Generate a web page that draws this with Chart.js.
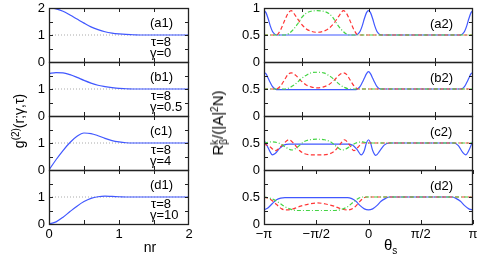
<!DOCTYPE html>
<html>
<head>
<meta charset="utf-8">
<script src="https://cdn.jsdelivr.net/npm/chart.js@4.4.0/dist/chart.umd.min.js"></script>
<style>
  body { margin: 0; background: #fff; width: 498px; height: 264px; overflow: hidden; position: relative; }
  .box { position: absolute; }
  .t { position: absolute; font: 13px "Liberation Sans", Arial, sans-serif; line-height: 14px; white-space: nowrap; color: #000; }
  .rot { position: absolute; transform: translate(-50%, -50%) rotate(-90deg); white-space: nowrap;
         font: 14px "Liberation Sans", Arial, sans-serif; line-height: 16px; color: #000; }
  .ss { display: inline-block; vertical-align: middle; line-height: 9px; font-size: 10px; text-align: left; }
  sup { font-size: 10px; vertical-align: 5px; line-height: 0; }
  sub { font-size: 10px; vertical-align: -4px; line-height: 0; }
</style>
</head>
<body>
<script>
const PI = Math.PI

// ---- left column: g2(r) against nr ----
const nr = [0, 0.1, 0.2, 0.3, 0.4, 0.5, 0.6, 0.7, 0.8, 0.9, 1.0, 1.1, 1.2, 1.3, 1.4, 1.5, 1.6, 1.7, 1.8, 1.9, 2.0]
const gA1 = [2.0, 1.97, 1.88, 1.74, 1.59, 1.44, 1.30, 1.20, 1.12, 1.07, 1.04, 1.02, 1.01, 1.0, 1, 1, 1, 1, 1, 1, 1]
const gB1 = [1.57, 1.61, 1.6, 1.53, 1.43, 1.32, 1.22, 1.14, 1.09, 1.05, 1.02, 1.01, 1.0, 1, 1, 1, 1, 1, 1, 1, 1]
const gC1 = [0, 0.38, 0.72, 1.02, 1.25, 1.37, 1.35, 1.27, 1.17, 1.09, 1.04, 1.01, 1.0, 1, 1, 1, 1, 1, 1, 1, 1]
const gD1 = [0, 0.08, 0.25, 0.46, 0.66, 0.83, 0.95, 1.01, 1.03, 1.02, 1.01, 1.0, 1, 1, 1, 1, 1, 1, 1, 1, 1]
const refLevel = 1

// ---- right column: [theta / pi, R] ----
const a2Blue = [[-1,0.95],[-0.98,0.91],[-0.96,0.8],[-0.94,0.67],[-0.92,0.57],[-0.9,0.52],[-0.88,0.5],[-0.12,0.5],[-0.1,0.52],[-0.08,0.57],[-0.06,0.67],[-0.04,0.8],[-0.02,0.91],[0,0.95],[0.02,0.91],[0.04,0.8],[0.06,0.67],[0.08,0.57],[0.1,0.52],[0.12,0.5],[0.88,0.5],[0.9,0.52],[0.92,0.57],[0.94,0.67],[0.96,0.8],[0.98,0.91],[1,0.95]]
const a2Red = [[-1,0.5],[-0.88,0.5],[-0.84,0.6],[-0.8,0.78],[-0.77,0.9],[-0.74,0.95],[-0.7,0.86],[-0.65,0.72],[-0.6,0.62],[-0.55,0.57],[-0.49,0.55],[-0.43,0.57],[-0.38,0.62],[-0.33,0.72],[-0.28,0.86],[-0.24,0.95],[-0.21,0.9],[-0.18,0.78],[-0.14,0.6],[-0.1,0.5],[1,0.5]]
const a2Green = [[-1,0.5],[-0.8,0.5],[-0.76,0.53],[-0.72,0.6],[-0.68,0.7],[-0.64,0.82],[-0.6,0.9],[-0.55,0.94],[-0.49,0.95],[-0.43,0.94],[-0.38,0.9],[-0.34,0.82],[-0.3,0.7],[-0.26,0.6],[-0.22,0.53],[-0.18,0.5],[1,0.5]]

const b2Blue = [[-1,0.81],[-0.98,0.78],[-0.96,0.7],[-0.94,0.62],[-0.92,0.55],[-0.9,0.51],[-0.88,0.49],[-0.12,0.49],[-0.1,0.51],[-0.08,0.55],[-0.06,0.62],[-0.04,0.7],[-0.02,0.78],[0,0.82],[0.02,0.78],[0.04,0.7],[0.06,0.62],[0.08,0.55],[0.1,0.51],[0.12,0.5],[0.88,0.5],[0.9,0.51],[0.92,0.55],[0.94,0.62],[0.96,0.7],[0.98,0.78],[1,0.81]]
const b2Red = [[-1,0.5],[-0.88,0.5],[-0.84,0.56],[-0.8,0.68],[-0.77,0.77],[-0.74,0.8],[-0.7,0.76],[-0.65,0.66],[-0.6,0.58],[-0.55,0.54],[-0.49,0.52],[-0.43,0.54],[-0.38,0.58],[-0.33,0.66],[-0.28,0.76],[-0.24,0.8],[-0.21,0.77],[-0.18,0.68],[-0.14,0.56],[-0.1,0.5],[1,0.5]]
const b2Green = [[-1,0.5],[-0.8,0.5],[-0.75,0.53],[-0.7,0.59],[-0.65,0.68],[-0.6,0.75],[-0.55,0.8],[-0.49,0.81],[-0.43,0.8],[-0.38,0.75],[-0.33,0.68],[-0.28,0.59],[-0.23,0.53],[-0.18,0.5],[1,0.5]]

const c2Blue = [[-1,0.55],[-0.97,0.45],[-0.94,0.33],[-0.92,0.28],[-0.89,0.31],[-0.85,0.4],[-0.81,0.46],[-0.76,0.48],[-0.2,0.48],[-0.15,0.46],[-0.11,0.38],[-0.07,0.28],[-0.04,0.36],[-0.02,0.5],[0,0.56],[0.02,0.5],[0.04,0.36],[0.07,0.27],[0.11,0.36],[0.15,0.46],[0.2,0.5],[0.82,0.5],[0.86,0.45],[0.9,0.33],[0.93,0.28],[0.96,0.36],[1,0.55]]
const c2Red = [[-1,0.48],[-0.95,0.44],[-0.89,0.36],[-0.83,0.45],[-0.76,0.56],[-0.71,0.48],[-0.66,0.36],[-0.61,0.3],[-0.55,0.28],[-0.43,0.28],[-0.37,0.3],[-0.32,0.36],[-0.27,0.48],[-0.23,0.56],[-0.18,0.46],[-0.14,0.36],[-0.1,0.42],[-0.06,0.5],[1,0.5]]
const c2Green = [[-1,0.5],[-0.93,0.52],[-0.86,0.5],[-0.8,0.43],[-0.73,0.37],[-0.67,0.44],[-0.62,0.52],[-0.56,0.56],[-0.49,0.57],[-0.42,0.56],[-0.36,0.52],[-0.31,0.44],[-0.25,0.37],[-0.18,0.43],[-0.12,0.5],[-0.06,0.52],[0,0.5],[1,0.5]]

const d2Blue = [[-1,0.26],[-0.96,0.3],[-0.92,0.38],[-0.88,0.45],[-0.84,0.48],[-0.8,0.49],[-0.2,0.49],[-0.16,0.47],[-0.12,0.42],[-0.08,0.34],[-0.04,0.28],[0,0.26],[0.04,0.28],[0.08,0.34],[0.12,0.42],[0.16,0.47],[0.2,0.5],[0.8,0.5],[0.84,0.47],[0.88,0.42],[0.92,0.34],[0.96,0.28],[1,0.26]]
const d2Red = [[-1,0.5],[-0.94,0.46],[-0.88,0.36],[-0.83,0.28],[-0.78,0.26],[-0.72,0.28],[-0.65,0.33],[-0.57,0.37],[-0.49,0.39],[-0.41,0.37],[-0.33,0.33],[-0.26,0.28],[-0.2,0.26],[-0.14,0.3],[-0.1,0.38],[-0.06,0.46],[-0.02,0.5],[1,0.5]]
const d2Green = [[-1,0.5],[-0.93,0.47],[-0.86,0.4],[-0.8,0.32],[-0.74,0.27],[-0.68,0.25],[-0.32,0.25],[-0.26,0.27],[-0.2,0.32],[-0.15,0.4],[-0.11,0.46],[-0.06,0.5],[1,0.5]]

const piTicks = [-1, -0.5, 0, 0.5, 1]
const piLabels = ["−π", "−π/2", "0", "π/2", "π"]
const radTicks = [-2, 0, 2]

const FONT = '"Liberation Sans", Arial, sans-serif'
const BLUE = "#4158ff", RED = "#ff3535", GREEN = "#45d445"

// frame with inward tick marks on all four sides
const frame = {
  id: "frame",
  afterDatasetsDraw(chart, args, o) {
    const { ctx, chartArea: a, scales } = chart
    const x = scales.x, y = scales.y
    ctx.save()
    ctx.strokeStyle = "#222"
    ctx.lineWidth = 1
    ctx.beginPath()
    o.xt.forEach((v) => {
      const px = Math.round(x.getPixelForValue(v)) + 0.5
      ctx.moveTo(px, a.top); ctx.lineTo(px, a.top + 4)
      ctx.moveTo(px, a.bottom); ctx.lineTo(px, a.bottom - 4)
    })
    o.yt.forEach((v) => {
      const py = Math.round(y.getPixelForValue(v)) + 0.5
      ctx.moveTo(a.left, py); ctx.lineTo(a.left + 4, py)
      ctx.moveTo(a.right, py); ctx.lineTo(a.right - 4, py)
    })
    ctx.stroke()
    ctx.lineWidth = 1.3
    ctx.strokeRect(a.left + 0.5, a.top + 0.5, a.right - a.left - 1, a.bottom - a.top)
    ctx.restore()
  },
}

function pts(list) {
  return list.map((p) => ({ x: p[0] * PI, y: p[1] }))
}

function curve(data, color, dash) {
  return { data, borderColor: color, borderWidth: 1.2, borderDash: dash || [], pointRadius: 0, fill: false }
}

function makePanel(p) {
  const L = p.col === "L"
  const plotLeft = L ? 49 : 264, plotW = L ? 140 : 209, plotH = 54
  const axisW = 40, pad = 14, xAxisH = p.last ? 22 : 0
  const w = axisW + plotW + pad, h = pad + plotH + (p.last ? xAxisH : pad)
  const box = document.createElement("div")
  box.className = "box"
  box.style.left = plotLeft - axisW + "px"
  box.style.top = p.top - pad + "px"
  const cv = document.createElement("canvas")
  cv.width = w
  cv.height = h
  box.appendChild(cv)
  document.body.appendChild(box)

  const yMax = L ? 2 : 1
  const xOpts = {
    type: "linear",
    min: L ? 0 : -PI,
    max: L ? 2 : PI,
    grid: { display: false, drawTicks: false },
    border: { display: false },
    ticks: {
      display: !!p.last,
      font: { family: FONT, size: 13 },
      color: "#000",
      padding: 3,
      maxRotation: 0,
      autoSkip: false,
    },
    afterFit(s) { s.height = xAxisH },
  }
  if (L) {
    xOpts.ticks.stepSize = 0.5
    xOpts.ticks.callback = (v) => (Number.isInteger(v) ? String(v) : "")
  } else {
    xOpts.afterBuildTicks = (s) => { s.ticks = piTicks.map((v) => ({ value: v * PI })) }
    xOpts.ticks.callback = (v, i) => piLabels[i]
  }

  new Chart(cv, {
    type: "line",
    data: { datasets: p.datasets },
    options: {
      responsive: false,
      animation: false,
      events: [],
      layout: { autoPadding: false, padding: { left: 0, right: pad, top: pad, bottom: p.last ? 0 : pad } },
      elements: { line: { cubicInterpolationMode: "monotone" } },
      plugins: {
        legend: { display: false },
        tooltip: { enabled: false },
        frame: { xt: p.xt, yt: L ? [0.5, 1, 1.5] : [0.25, 0.5, 0.75] },
      },
      scales: {
        x: xOpts,
        y: {
          type: "linear",
          min: 0,
          max: yMax,
          grid: { display: false, drawTicks: false },
          border: { display: false },
          ticks: {
            stepSize: 0.5,
            padding: 4,
            font: { family: FONT, size: 13 },
            color: "#000",
            callback: (v) => {
              if (v === yMax && !p.first) return ""
              if (L && !Number.isInteger(v)) return ""
              return String(v)
            },
          },
          afterFit(s) { s.width = axisW },
        },
      },
    },
    plugins: [frame],
  })
}

const tops = [8, 62, 116, 170]
const leftG = [gA1, gB1, gC1, gD1]
const gammas = ["γ=0", "γ=0.5", "γ=4", "γ=10"]
const rightSets = [
  [a2Green, a2Red, a2Blue],
  [b2Green, b2Red, b2Blue],
  [c2Green, c2Red, c2Blue],
  [d2Green, d2Red, d2Blue],
]
const letters = ["a", "b", "c", "d"]

function text(html, left, cy, cls) {
  const d = document.createElement("div")
  d.className = cls || "t"
  d.innerHTML = html
  d.style.left = left + "px"
  d.style.top = cy - 7 + "px"
  document.body.appendChild(d)
  return d
}

tops.forEach((top, i) => {
  const last = i === 3, first = i === 0
  makePanel({
    col: "L", top, first, last,
    xt: [0.5, 1, 1.5],
    datasets: [
      curve(nr.map((x, k) => ({ x, y: leftG[i][k] })), BLUE),
      { data: [{ x: 0, y: refLevel }, { x: 2, y: refLevel }], borderColor: "#aaa", borderWidth: 1, borderDash: [1, 2], pointRadius: 0 },
    ],
  })
  const [g, r, b] = rightSets[i]
  makePanel({
    col: "R", top, first, last,
    xt: last ? piTicks.map((v) => v * PI) : radTicks,
    datasets: [curve(pts(g), GREEN, [4, 2, 1, 2]), curve(pts(r), RED, [4, 2.5]), curve(pts(b), BLUE)],
  })
  text("(" + letters[i] + "1)", 150, top + 15)
  text("τ=8", 151, top + 34)
  text(gammas[i], 150, top + 44.5)
  text("(" + letters[i] + "2)", 430, top + 16)
})

// axis titles
const nrT = text("nr", 150, 247)
nrT.style.fontSize = "14px"
nrT.style.transform = "translateX(-50%)"
const thT = text("θ<sub>s</sub>", 384, 245)
thT.style.fontSize = "15px"

const gl = document.createElement("div")
gl.className = "rot"
gl.innerHTML = "g<sup>(2)</sup>(r;γ,τ)"
gl.style.left = "19px"
gl.style.top = "121px"
document.body.appendChild(gl)

const rl = document.createElement("div")
rl.className = "rot"
rl.style.fontSize = "15px"
rl.innerHTML = 'R<span class="ss">k<br>β</span>/(|A|<sup>2</sup>N)'
rl.style.left = "219px"
rl.style.top = "123px"
document.body.appendChild(rl)
</script>
</body>
</html>
